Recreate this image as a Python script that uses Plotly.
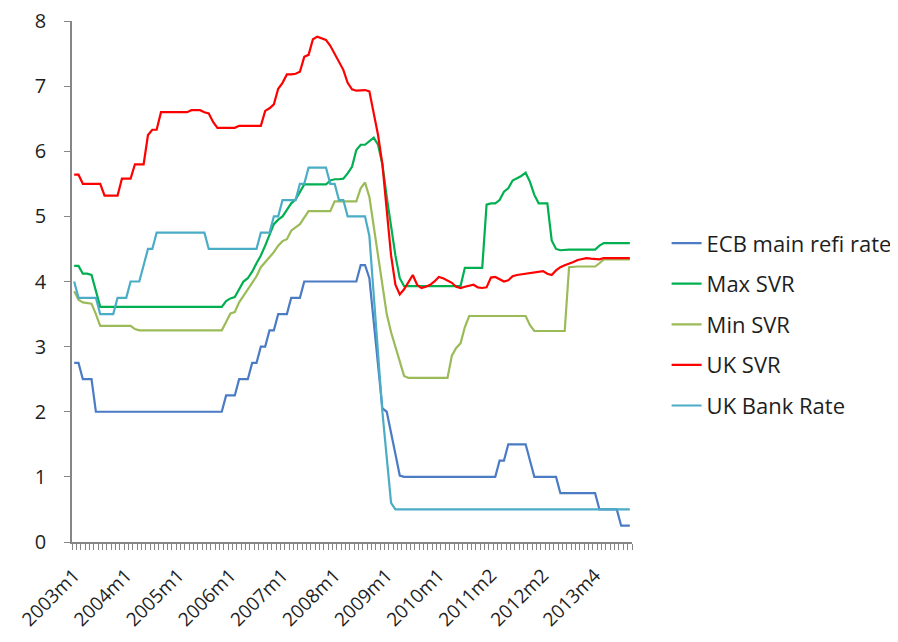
import plotly.graph_objects as go

# ---- categories (monthly, 2003m1 .. 2013m12, a few months absent in source) ----
YEARS = list(range(2003, 2014))
MISSING = ["2010m7", "2012m4", "2012m10"]
CATEGORIES = [f"{y}m{m}" for y in YEARS for m in range(1, 13) if f"{y}m{m}" not in MISSING]

TICK_LABELS = ["2003m1", "2004m1", "2005m1", "2006m1", "2007m1", "2008m1",
               "2009m1", "2010m1", "2011m2", "2012m2", "2013m4"]

ECB_REFI = [
    2.75, 2.75, 2.5, 2.5, 2.5, 2.0, 2.0, 2.0, 2.0, 2.0,
    2.0, 2.0, 2.0, 2.0, 2.0, 2.0, 2.0, 2.0, 2.0, 2.0,
    2.0, 2.0, 2.0, 2.0, 2.0, 2.0, 2.0, 2.0, 2.0, 2.0,
    2.0, 2.0, 2.0, 2.0, 2.0, 2.25, 2.25, 2.25, 2.5, 2.5,
    2.5, 2.75, 2.75, 3.0, 3.0, 3.25, 3.25, 3.5, 3.5, 3.5,
    3.75, 3.75, 3.75, 4.0, 4.0, 4.0, 4.0, 4.0, 4.0, 4.0,
    4.0, 4.0, 4.0, 4.0, 4.0, 4.0, 4.25, 4.25, 4.05, 3.4,
    2.7, 2.05, 2.0, 1.7, 1.35, 1.02, 1.0, 1.0, 1.0, 1.0,
    1.0, 1.0, 1.0, 1.0, 1.0, 1.0, 1.0, 1.0, 1.0, 1.0,
    1.0, 1.0, 1.0, 1.0, 1.0, 1.0, 1.0, 1.0, 1.25, 1.25,
    1.5, 1.5, 1.5, 1.5, 1.5, 1.25, 1.0, 1.0, 1.0, 1.0,
    1.0, 1.0, 0.75, 0.75, 0.75, 0.75, 0.75, 0.75, 0.75, 0.75,
    0.75, 0.5, 0.5, 0.5, 0.5, 0.5, 0.25, 0.25, 0.25,
]

MAX_SVR = [
    4.24, 4.24, 4.12, 4.12, 4.1, 3.85, 3.61, 3.61, 3.61, 3.61,
    3.61, 3.61, 3.61, 3.61, 3.61, 3.61, 3.61, 3.61, 3.61, 3.61,
    3.61, 3.61, 3.61, 3.61, 3.61, 3.61, 3.61, 3.61, 3.61, 3.61,
    3.61, 3.61, 3.61, 3.61, 3.61, 3.70, 3.74, 3.76, 3.88, 4.0,
    4.05, 4.15, 4.28, 4.4, 4.55, 4.72, 4.88, 4.95, 5.0, 5.1,
    5.2, 5.26, 5.38, 5.49, 5.49, 5.49, 5.49, 5.49, 5.49, 5.55,
    5.57, 5.57, 5.58, 5.66, 5.76, 6.02, 6.1, 6.1, 6.15, 6.21,
    6.1, 5.8, 5.3, 4.85, 4.4, 4.05, 3.93, 3.93, 3.93, 3.93,
    3.93, 3.93, 3.93, 3.93, 3.93, 3.93, 3.93, 3.93, 3.93, 3.93,
    4.21, 4.21, 4.21, 4.21, 4.21, 5.18, 5.2, 5.2, 5.25, 5.38,
    5.43, 5.55, 5.58, 5.62, 5.67, 5.53, 5.33, 5.2, 5.2, 5.2,
    4.63, 4.5, 4.48, 4.49, 4.49, 4.49, 4.49, 4.49, 4.49, 4.49,
    4.49, 4.55, 4.59, 4.59, 4.59, 4.59, 4.59, 4.59, 4.59,
]

MIN_SVR = [
    3.85, 3.72, 3.68, 3.67, 3.66, 3.5, 3.32, 3.32, 3.32, 3.32,
    3.32, 3.32, 3.32, 3.32, 3.27, 3.25, 3.25, 3.25, 3.25, 3.25,
    3.25, 3.25, 3.25, 3.25, 3.25, 3.25, 3.25, 3.25, 3.25, 3.25,
    3.25, 3.25, 3.25, 3.25, 3.25, 3.38, 3.51, 3.53, 3.68, 3.78,
    3.88, 3.98, 4.08, 4.22, 4.3, 4.38, 4.45, 4.55, 4.62, 4.65,
    4.78, 4.83, 4.88, 4.98, 5.08, 5.08, 5.08, 5.08, 5.08, 5.08,
    5.23, 5.23, 5.23, 5.23, 5.23, 5.23, 5.43, 5.52, 5.3, 4.85,
    4.4, 3.95, 3.5, 3.22, 3.0, 2.78, 2.55, 2.52, 2.52, 2.52,
    2.52, 2.52, 2.52, 2.52, 2.52, 2.52, 2.52, 2.86, 2.98, 3.05,
    3.3, 3.47, 3.47, 3.47, 3.47, 3.47, 3.47, 3.47, 3.47, 3.47,
    3.47, 3.47, 3.47, 3.47, 3.47, 3.33, 3.24, 3.24, 3.24, 3.24,
    3.24, 3.24, 3.24, 3.24, 4.22, 4.23, 4.23, 4.23, 4.23, 4.23,
    4.23, 4.28, 4.34, 4.34, 4.34, 4.34, 4.34, 4.34, 4.34,
]

UK_SVR = [
    5.64, 5.64, 5.5, 5.5, 5.5, 5.5, 5.5, 5.32, 5.32, 5.32,
    5.32, 5.58, 5.58, 5.58, 5.8, 5.8, 5.8, 6.25, 6.33, 6.33,
    6.6, 6.6, 6.6, 6.6, 6.6, 6.6, 6.6, 6.63, 6.63, 6.63,
    6.6, 6.58, 6.45, 6.36, 6.36, 6.36, 6.36, 6.36, 6.39, 6.39,
    6.39, 6.39, 6.39, 6.39, 6.62, 6.66, 6.72, 6.96, 7.05, 7.18,
    7.18, 7.19, 7.22, 7.45, 7.48, 7.72, 7.76, 7.74, 7.71, 7.62,
    7.5, 7.38, 7.25, 7.05, 6.95, 6.93, 6.93, 6.94, 6.92, 6.6,
    6.25, 5.8, 5.1, 4.4, 3.95, 3.8, 3.88, 4.0, 4.1, 3.95,
    3.9, 3.92, 3.95, 4.0, 4.07, 4.05, 4.02, 3.98, 3.92, 3.9,
    3.92, 3.93, 3.95, 3.91, 3.9, 3.91, 4.06, 4.07, 4.03, 4.0,
    4.02, 4.08, 4.1, 4.11, 4.12, 4.13, 4.14, 4.15, 4.16, 4.12,
    4.1, 4.17, 4.22, 4.25, 4.27, 4.3, 4.33, 4.35, 4.36, 4.35,
    4.34, 4.34, 4.36, 4.36, 4.36, 4.36, 4.36, 4.36, 4.36,
]

UK_BANK_RATE = [
    4.0, 3.75, 3.75, 3.75, 3.75, 3.75, 3.5, 3.5, 3.5, 3.5,
    3.75, 3.75, 3.75, 4.0, 4.0, 4.0, 4.25, 4.5, 4.5, 4.75,
    4.75, 4.75, 4.75, 4.75, 4.75, 4.75, 4.75, 4.75, 4.75, 4.75,
    4.75, 4.5, 4.5, 4.5, 4.5, 4.5, 4.5, 4.5, 4.5, 4.5,
    4.5, 4.5, 4.5, 4.75, 4.75, 4.75, 5.0, 5.0, 5.25, 5.25,
    5.25, 5.25, 5.5, 5.5, 5.75, 5.75, 5.75, 5.75, 5.75, 5.5,
    5.5, 5.25, 5.25, 5.0, 5.0, 5.0, 5.0, 5.0, 4.7, 3.8,
    2.8, 2.0, 1.3, 0.6, 0.5, 0.5, 0.5, 0.5, 0.5, 0.5,
    0.5, 0.5, 0.5, 0.5, 0.5, 0.5, 0.5, 0.5, 0.5, 0.5,
    0.5, 0.5, 0.5, 0.5, 0.5, 0.5, 0.5, 0.5, 0.5, 0.5,
    0.5, 0.5, 0.5, 0.5, 0.5, 0.5, 0.5, 0.5, 0.5, 0.5,
    0.5, 0.5, 0.5, 0.5, 0.5, 0.5, 0.5, 0.5, 0.5, 0.5,
    0.5, 0.5, 0.5, 0.5, 0.5, 0.5, 0.5, 0.5, 0.5,
]

SERIES = [
    ("ECB main refi rate", ECB_REFI, "#4a7bc4"),
    ("Max SVR", MAX_SVR, "#00b050"),
    ("Min SVR", MIN_SVR, "#9bbb59"),
    ("UK SVR", UK_SVR, "#ff0000"),
    ("UK Bank Rate", UK_BANK_RATE, "#4bacc6"),
]

FONT = "Open Sans, sans-serif"
TEXT = "#1e1e1e"
AXIS = "#868686"

fig = go.Figure()
for name, vals, color in SERIES:
    fig.add_trace(go.Scatter(
        x=CATEGORIES, y=vals, name=name, mode="lines",
        line=dict(color=color, width=2.2), legendgroup=name,
    ))

fig.update_layout(
    width=890, height=634,
    margin=dict(l=64, r=266, t=13, b=100),
    paper_bgcolor="white", plot_bgcolor="white",
    font=dict(family=FONT, size=20, color=TEXT),
    showlegend=True,
    legend=dict(xref="container", yref="container", x=0.740, y=0.662,
                xanchor="left", yanchor="top",
                font=dict(family=FONT, size=22, color=TEXT),
                tracegroupgap=9, itemwidth=30, bgcolor="rgba(0,0,0,0)"),
)

fig.update_xaxes(
    type="category", categoryorder="array", categoryarray=CATEGORIES,
    tickmode="array", tickvals=CATEGORIES,
    ticktext=[c if c in TICK_LABELS else "" for c in CATEGORIES],
    tickson="boundaries", ticks="outside", ticklen=6, tickcolor=AXIS, tickwidth=1,
    tickangle=-45, tickfont=dict(family=FONT, size=19, color=TEXT),
    ticklabelstandoff=13,
    showline=True, linecolor=AXIS, linewidth=1.5, showgrid=False, zeroline=False,
    automargin=False, range=[-0.5, len(CATEGORIES) - 0.5],
)
fig.update_yaxes(
    range=[0, 8], dtick=1, tick0=0, ticks="outside", ticklen=6, tickcolor=AXIS,
    showline=True, linecolor=AXIS, linewidth=1.5, showgrid=False, zeroline=False,
    tickfont=dict(family=FONT, size=20, color=TEXT), ticklabelstandoff=14,
    ticklabeloverflow="allow", automargin=False,
)

fig.write_html("out.html")
